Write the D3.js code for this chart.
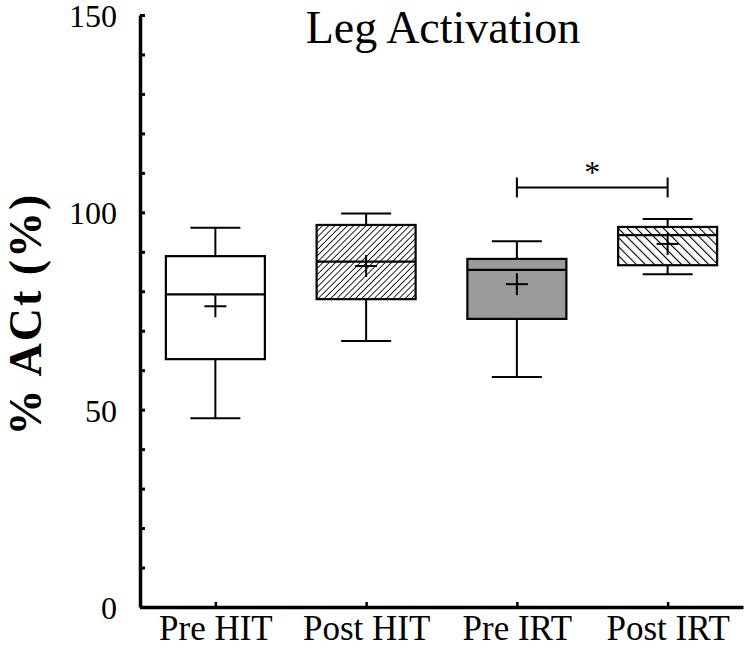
<!DOCTYPE html>
<html>
<head>
<meta charset="utf-8">
<script src="https://cdn.jsdelivr.net/npm/d3@7"></script>
<style>
  html, body { margin: 0; padding: 0; background: #fff; }
  svg { display: block; }
  text { font-family: "Liberation Serif", "Times New Roman", serif; fill: #000; }
</style>
</head>
<body>
<svg id="chart" width="746" height="649"></svg>
<script>
const categories = ["Pre HIT", "Post HIT", "Pre IRT", "Post IRT"];
const whiskerHigh = [96.1, 99.7, 92.7, 98.3];
const q3 = [88.9, 96.8, 88.2, 96.3];
const median = [79.2, 87.5, 85.4, 94.2];
const mean = [76.2, 86.4, 81.8, 92.0];
const q1 = [62.8, 78.0, 73.0, 86.6];
const whiskerLow = [47.8, 67.4, 58.3, 84.3];
const fills = ["white", "hatchA", "gray", "hatchB"];
const yTicks = [0, 10, 20, 30, 40, 50, 60, 70, 80, 90, 100, 110, 120, 130, 140, 150];
const yLabels = [0, 50, 100, 150];
const sigPair = ["Pre IRT", "Post IRT"];
const sigLevel = 106.3;
const sigMark = "*";
const title = "Leg Activation";
const yTitle = "% ACt (%)";

const SERIF = "'Liberation Serif', 'Times New Roman', serif";
const svg = d3.select("#chart");
const x = d3.scalePoint().domain(categories).range([140, 743]).padding(0.5);
const y = d3.scaleLinear().domain([0, 150]).range([607, 15]);

const defs = svg.append("defs");
function hatch(id, spacing, angle, sw) {
  const p = defs.append("pattern").attr("id", id)
    .attr("patternUnits", "userSpaceOnUse")
    .attr("width", spacing).attr("height", spacing)
    .attr("patternTransform", `rotate(${angle})`);
  p.append("rect").attr("width", spacing).attr("height", spacing).attr("fill", "#fff");
  p.append("line").attr("x1", 0).attr("y1", 0).attr("x2", 0).attr("y2", spacing)
    .attr("stroke", "#000").attr("stroke-width", sw);
}
hatch("hatchA", 4.4, 45, 1.7);
hatch("hatchB", 6.4, -45, 2.2);

// axes
const yAxis = d3.axisLeft(y).tickValues(yTicks).tickSizeInner(-5).tickSizeOuter(0)
  .tickPadding(23).tickFormat(d => yLabels.includes(d) ? d : "");
const gy = svg.append("g").attr("transform", "translate(140,0)").call(yAxis)
  .attr("font-family", SERIF).attr("font-size", 32);
gy.select(".domain").attr("stroke-width", 3.5);
gy.selectAll(".tick line").attr("stroke-width", 3);
gy.selectAll(".tick text").style("font-size", "32px").style("font-family", SERIF).attr("dy", "0.36em");

const xAxis = d3.axisBottom(x).tickSizeInner(-5).tickSizeOuter(0).tickPadding(0);
const gx = svg.append("g").attr("transform", "translate(0,607)").call(xAxis)
  .attr("font-family", SERIF).attr("font-size", 35);
gx.select(".domain").attr("stroke-width", 3.5);
gx.selectAll(".tick line").attr("stroke-width", 2.5);
gx.selectAll(".tick text").style("font-size", "35px").style("font-family", SERIF)
  .attr("y", 33).attr("dy", 0);

// boxes
const boxW = 99, capW = 50;
const g = svg.append("g");
categories.forEach((c, i) => {
  const cx = x(c);
  const sg = g.append("g");
  sg.append("line").attr("x1", cx).attr("x2", cx).attr("y1", y(whiskerHigh[i])).attr("y2", y(q3[i]))
    .attr("stroke", "#000").attr("stroke-width", 2);
  sg.append("line").attr("x1", cx).attr("x2", cx).attr("y1", y(q1[i])).attr("y2", y(whiskerLow[i]))
    .attr("stroke", "#000").attr("stroke-width", 2);
  [whiskerHigh[i], whiskerLow[i]].forEach(v => {
    sg.append("line").attr("x1", cx - capW / 2).attr("x2", cx + capW / 2).attr("y1", y(v)).attr("y2", y(v))
      .attr("stroke", "#000").attr("stroke-width", 2);
  });
  let fill = fills[i];
  if (fill === "gray") fill = "#9b9b9b";
  else if (fill.startsWith("hatch")) fill = `url(#${fill})`;
  sg.append("rect").attr("x", cx - boxW / 2).attr("width", boxW)
    .attr("y", y(q3[i])).attr("height", y(q1[i]) - y(q3[i]))
    .attr("fill", fill).attr("stroke", "#000").attr("stroke-width", 2.2);
  sg.append("line").attr("x1", cx - boxW / 2).attr("x2", cx + boxW / 2)
    .attr("y1", y(median[i])).attr("y2", y(median[i])).attr("stroke", "#000").attr("stroke-width", 2.2);
  const my = y(mean[i]);
  sg.append("line").attr("x1", cx - 11).attr("x2", cx + 11).attr("y1", my).attr("y2", my)
    .attr("stroke", "#000").attr("stroke-width", 2);
  sg.append("line").attr("x1", cx).attr("x2", cx).attr("y1", my - 11).attr("y2", my + 11)
    .attr("stroke", "#000").attr("stroke-width", 2);
});

// significance bracket
const sx1 = x(sigPair[0]), sx2 = x(sigPair[1]), sy = y(sigLevel);
svg.append("line").attr("x1", sx1).attr("x2", sx2).attr("y1", sy).attr("y2", sy)
  .attr("stroke", "#000").attr("stroke-width", 2);
[sx1, sx2].forEach(v => {
  svg.append("line").attr("x1", v).attr("x2", v).attr("y1", sy - 10).attr("y2", sy + 10)
    .attr("stroke", "#000").attr("stroke-width", 2);
});
svg.append("text").attr("x", (sx1 + sx2) / 2).attr("y", sy - 4).attr("text-anchor", "middle")
  .style("font-size", "32px").text(sigMark);

// titles
svg.append("text").attr("x", 443).attr("y", 43).attr("text-anchor", "middle")
  .style("font-size", "46px").text(title);
svg.append("text").attr("transform", "translate(41,314) rotate(-90)").attr("text-anchor", "middle")
  .style("font-size", "46px").style("font-weight", "bold").style("letter-spacing", "2px").text(yTitle);
</script>
</body>
</html>
